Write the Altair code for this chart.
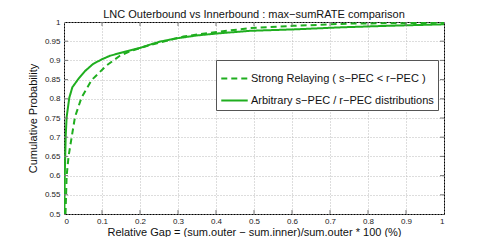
import altair as alt
import pandas as pd

# Arbitrary s-PEC / r-PEC distributions (solid)
arb_x = [0.001, 0.002, 0.0045, 0.007, 0.014, 0.022, 0.038, 0.055, 0.077, 0.1, 0.121, 0.165, 0.2, 0.226,
         0.253, 0.297, 0.35, 0.402, 0.489, 0.612, 0.726, 0.85, 1.0]
arb_y = [0.5, 0.6, 0.703, 0.753, 0.803, 0.83, 0.852, 0.872, 0.891, 0.903, 0.912, 0.924, 0.9325, 0.941,
         0.949, 0.9575, 0.965, 0.97, 0.977, 0.981, 0.986, 0.99, 0.994]

# Strong Relaying (dashed)
str_x = [0.004, 0.007, 0.012, 0.02, 0.029, 0.046, 0.073, 0.112, 0.147, 0.174, 0.2, 0.23, 0.27, 0.314,
         0.36, 0.402, 0.489, 0.603, 0.753, 0.9, 1.0]
str_y = [0.5, 0.6, 0.65, 0.699, 0.753, 0.803, 0.849, 0.887, 0.912, 0.924, 0.932, 0.941, 0.951, 0.962,
         0.969, 0.974, 0.984, 0.99, 0.996, 0.997, 0.998]

series_names = ["Strong Relaying ( s\u2212PEC < r\u2212PEC )", "Arbitrary s\u2212PEC / r\u2212PEC distributions"]

x_ticks = [0, 0.1, 0.2, 0.3, 0.4, 0.5, 0.6, 0.7, 0.8, 0.9, 1]
y_ticks = [0.5, 0.55, 0.6, 0.65, 0.7, 0.75, 0.8, 0.85, 0.9, 0.95, 1]

rows = []
for i, (x, y) in enumerate(zip(str_x, str_y)):
    rows.append({"x": x, "y": y, "series": series_names[0], "o": i})
for i, (x, y) in enumerate(zip(arb_x, arb_y)):
    rows.append({"x": x, "y": y, "series": series_names[1], "o": i})
df = pd.DataFrame(rows)

FONT = "Liberation Sans"
GREEN = "#1fae1f"
W, H = 380, 192
X_TITLE = "Relative Gap = (sum.outer \u2212 sum.inner)/sum.outer * 100 (%)"
Y_TITLE = "Cumulative Probability"

xs = alt.Scale(domain=[0, 1], nice=False)
ys = alt.Scale(domain=[0.5, 1], nice=False)

x_axis = alt.Axis(values=x_ticks, format="~g", grid=True, gridDash=[1, 2], gridColor="#bbbbbb",
                  ticks=False, domain=False, labelFontSize=8, labelPadding=3, labelOverlap=False,
                  titleFontSize=11, titleFont=FONT, labelFont=FONT, titleFontWeight="normal",
                  titlePadding=1, labelColor="#222", titleColor="#111")
y_axis = alt.Axis(values=y_ticks, format="~g", grid=True, gridDash=[1, 2], gridColor="#bbbbbb",
                  ticks=False, domain=False, labelFontSize=8, labelPadding=4, labelOverlap=False,
                  titleFontSize=11, titleFont=FONT, labelFont=FONT, titleFontWeight="normal",
                  titlePadding=6, labelColor="#222", titleColor="#111")

lines = alt.Chart(df).mark_line(strokeWidth=2, color=GREEN, clip=True).encode(
    x=alt.X("x:Q", scale=xs, title=X_TITLE, axis=x_axis),
    y=alt.Y("y:Q", scale=ys, title=Y_TITLE, axis=y_axis),
    strokeDash=alt.StrokeDash("series:N", sort=series_names,
                              scale=alt.Scale(domain=series_names, range=[[6, 4], [1, 0]]),
                              legend=alt.Legend(title=None, orient="none", legendX=152, legendY=38,
                                                symbolType="stroke", symbolStrokeColor=GREEN,
                                                symbolStrokeWidth=2, symbolSize=700,
                                                labelFontSize=11, labelFont=FONT, labelColor="#111",
                                                fillColor="white", strokeColor="#555", padding=4,
                                                rowPadding=2, labelOffset=2, labelLimit=300)),
    order="o:Q",
)

xt = pd.DataFrame({"x": x_ticks[1:-1]})
yt = pd.DataFrame({"y": y_ticks[1:-1]})
tick_col = "#777"
XE = alt.X("x:Q", scale=xs, title=X_TITLE, axis=x_axis)
YE = alt.Y("y:Q", scale=ys, title=Y_TITLE, axis=y_axis)
xb = alt.Chart(xt).mark_rule(color=tick_col).encode(x=XE, y=alt.value(H), y2=alt.value(H - 4))
xtp = alt.Chart(xt).mark_rule(color=tick_col).encode(x=XE, y=alt.value(0), y2=alt.value(4))
yl = alt.Chart(yt).mark_rule(color=tick_col).encode(y=YE, x=alt.value(0), x2=alt.value(4))
yr = alt.Chart(yt).mark_rule(color=tick_col).encode(y=YE, x=alt.value(W), x2=alt.value(W - 4))

chart = alt.layer(lines, xb, xtp, yl, yr).properties(
    width=W, height=H,
    title=alt.TitleParams("LNC Outerbound vs Innerbound : max\u2212sumRATE comparison",
                          fontSize=11, font=FONT, fontWeight="normal", offset=-2, color="#111"),
    autosize=alt.AutoSizeParams(type="none"),
    padding={"left": 56, "top": 14, "right": 39, "bottom": 23},
).configure_view(stroke="#000", strokeWidth=1)

chart.save("out.html", embed_options={"renderer": "svg", "actions": False})
